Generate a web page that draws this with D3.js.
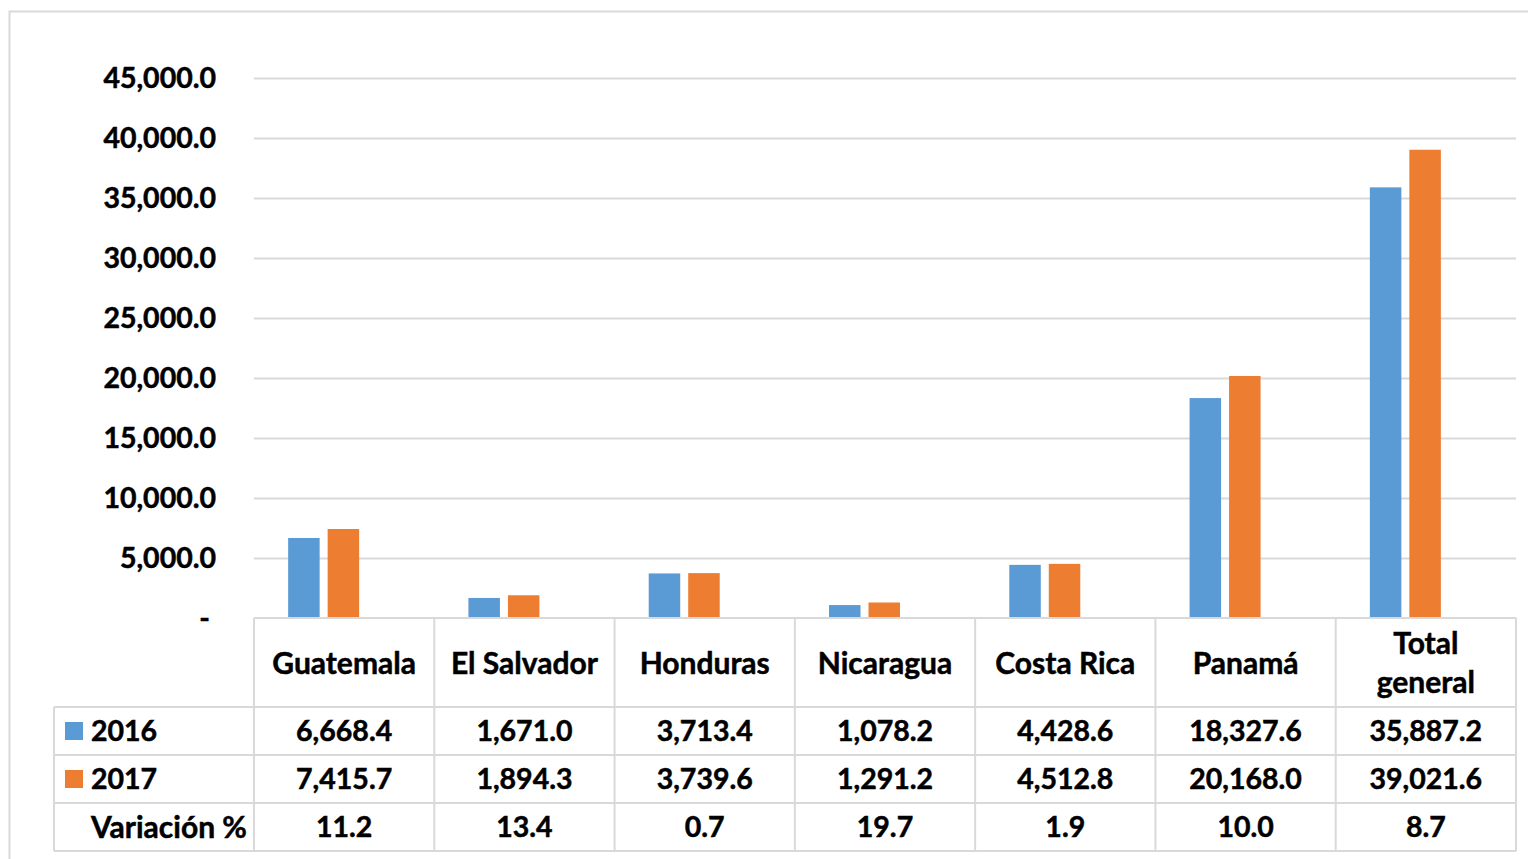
<!DOCTYPE html>
<html><head><meta charset="utf-8">
<script src="https://cdn.jsdelivr.net/npm/d3@7"></script>
<style>
html,body{margin:0;padding:0;background:#fff;}
svg{display:block;}
text{font-family:Lato,"Open Sans",sans-serif;font-weight:bold;fill:#000;stroke:#000;stroke-width:0.5px;}
</style></head>
<body>
<svg id="c" width="1528" height="859"></svg>
<script>
const categories = ["Guatemala","El Salvador","Honduras","Nicaragua","Costa Rica","Panamá","Total general"];
const values2016 = [6668.4,1671.0,3713.4,1078.2,4428.6,18327.6,35887.2];
const values2017 = [7415.7,1894.3,3739.6,1291.2,4512.8,20168.0,39021.6];
const variacion = [11.2,13.4,0.7,19.7,1.9,10.0,8.7];
const seriesNames = ["2016","2017"];
const colors = ["#5b9bd5","#ed7d31"];
const yTicks = [0,5000,10000,15000,20000,25000,30000,35000,40000,45000];

(function(){
const svg = d3.select("#c");
const pLeft=254, pRight=1516, pTop=78, pBottom=618;
const grid="#d9d9d9";
const numSize=28.5, wordSize=30;

svg.append("rect").attr("x",9.5).attr("y",11.5).attr("width",1540).attr("height",880)
  .attr("fill","none").attr("stroke",grid).attr("stroke-width",2);

const x = d3.scaleBand().domain(categories).range([pLeft,pRight]).paddingInner(0).paddingOuter(0);
const y = d3.scaleLinear().domain([0,45000]).range([pBottom,pTop]);

const fmt = d3.format(",.1f");
svg.append("g").selectAll("line").data(yTicks.filter(d=>d>0)).join("line")
  .attr("x1",pLeft).attr("x2",pRight).attr("y1",d=>Math.round(y(d))+0.5).attr("y2",d=>Math.round(y(d))+0.5)
  .attr("stroke",grid).attr("stroke-width",2);

const yAxis = d3.axisLeft(y).tickValues(yTicks).tickSize(0).tickPadding(0)
  .tickFormat(d=> d===0 ? "-" : fmt(d));
const ga = svg.append("g").attr("transform",`translate(216,0)`).call(yAxis);
ga.select(".domain").remove();
ga.selectAll("text").attr("font-size",numSize).attr("font-family","Lato,sans-serif").attr("font-weight","bold").attr("fill","#000").attr("dy","0.35em");
ga.selectAll(".tick").filter(d=>d===0).select("text").attr("dx",-6);

// bars: pair width 71 (31.5 + 8 gap + 31.5), pair centre offset 20.5px left of the column centre
const inner = d3.scaleBand().domain(seriesNames).range([0,71]).paddingInner(8/39.5).paddingOuter(0);
const series=[values2016,values2017];
series.forEach((vals,si)=>{
  svg.append("g").selectAll("rect").data(vals).join("rect")
    .attr("x",(d,i)=>x(categories[i])+x.bandwidth()/2-20.5-35.5+inner(seriesNames[si]))
    .attr("width",inner.bandwidth())
    .attr("y",d=>y(d)).attr("height",d=>y(0)-y(d))
    .attr("fill",colors[si]);
});

const tg=svg.append("g").attr("stroke",grid).attr("stroke-width",2);
tg.append("line").attr("x1",pLeft).attr("x2",pRight).attr("y1",618).attr("y2",618);
[707,755,803,851].forEach(yy=>tg.append("line").attr("x1",54).attr("x2",pRight).attr("y1",yy).attr("y2",yy));
const colEdges = categories.map(c=>x(c)).concat([pRight]);
colEdges.forEach(xx=>tg.append("line").attr("x1",xx).attr("x2",xx).attr("y1",618).attr("y2",851));
tg.append("line").attr("x1",54).attr("x2",54).attr("y1",707).attr("y2",851);

const hdr=svg.append("g");
categories.forEach(c=>{
  const cx=x(c)+x.bandwidth()/2;
  const words = c==="Total general" ? ["Total","general"] : [c];
  if(words.length===1){
    hdr.append("text").attr("x",cx).attr("y",663).attr("dy","0.35em").attr("text-anchor","middle").attr("font-size",wordSize).text(c);
  } else {
    hdr.append("text").attr("x",cx).attr("y",643).attr("dy","0.35em").attr("text-anchor","middle").attr("font-size",wordSize).text(words[0]);
    hdr.append("text").attr("x",cx).attr("y",682).attr("dy","0.35em").attr("text-anchor","middle").attr("font-size",wordSize).text(words[1]);
  }
});
const rowData=[values2016.map(fmt),values2017.map(fmt),variacion.map(d3.format(".1f"))];
const rowCenters=[731,779,827];
rowData.forEach((r,ri)=>{
  r.forEach((v,i)=>{
    svg.append("text").attr("x",x(categories[i])+x.bandwidth()/2).attr("y",rowCenters[ri]).attr("dy","0.35em")
      .attr("text-anchor","middle").attr("font-size",numSize).text(v);
  });
});
seriesNames.forEach((s,si)=>{
  svg.append("rect").attr("x",65).attr("y",rowCenters[si]-9).attr("width",18).attr("height",18).attr("fill",colors[si]);
  svg.append("text").attr("x",91).attr("y",rowCenters[si]).attr("dy","0.35em").attr("font-size",numSize).text(s);
});
svg.append("text").attr("x",91).attr("y",rowCenters[2]).attr("dy","0.35em").attr("font-size",wordSize).text("Variación %");
})();
</script>
</body></html>
